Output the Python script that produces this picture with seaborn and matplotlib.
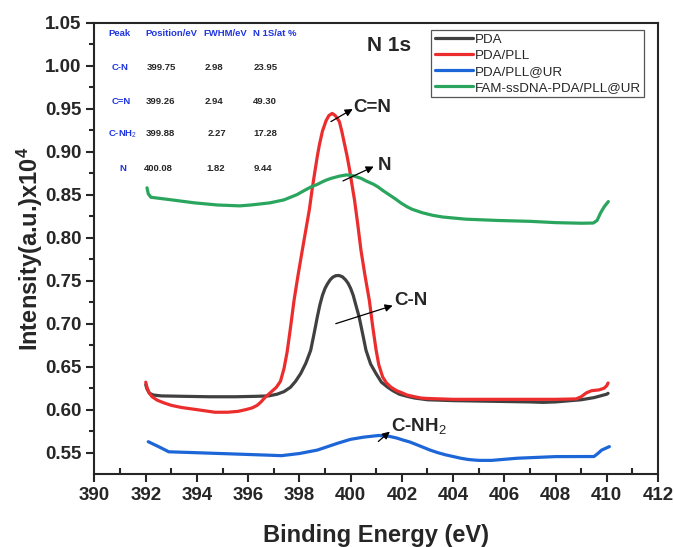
import numpy as np
import pandas as pd
import matplotlib
matplotlib.use("Agg")
import matplotlib.pyplot as plt
from matplotlib.ticker import MultipleLocator, FormatStrFormatter
import seaborn as sns

# ---------------- data ----------------
series_names = ["PDA", "PDA/PLL", "PDA/PLL@UR", "FAM-ssDNA-PDA/PLL@UR"]

pda_x = [392.0, 392.05, 392.15, 392.3, 392.6, 393.5, 394.5, 395.5, 396.3, 396.8, 397.13, 397.4,
         397.65, 397.85, 398.05, 398.25, 398.44, 398.57, 398.7, 398.8, 398.9, 399.0, 399.09,
         399.2, 399.3, 399.42, 399.55, 399.68, 399.8, 399.9, 400.0, 400.1, 400.2, 400.33,
         400.47, 400.6, 400.78, 400.99, 401.2, 401.45, 401.65, 401.9, 402.2, 402.5, 403.0,
         404.0, 405.0, 406.0, 407.0, 407.5, 408.0, 409.0, 409.5, 410.0, 410.05]
pda_y = [0.629, 0.624, 0.619, 0.617, 0.616, 0.6155, 0.615, 0.615, 0.6155, 0.616, 0.618, 0.621,
         0.626, 0.633, 0.642, 0.654, 0.669, 0.688, 0.708, 0.722, 0.733, 0.741, 0.746,
         0.751, 0.754, 0.7558, 0.756, 0.7545, 0.751, 0.747, 0.741, 0.733, 0.722, 0.708,
         0.688, 0.669, 0.653, 0.642, 0.632, 0.626, 0.622, 0.618, 0.6155, 0.6135, 0.6115,
         0.6105, 0.610, 0.6095, 0.609, 0.6085, 0.609, 0.6115, 0.614, 0.618, 0.619]

pll_x = [392.0, 392.05, 392.12, 392.25, 392.45, 392.7, 393.0, 393.4, 394.0, 394.7, 395.2,
         395.6, 395.9, 396.15, 396.35, 396.5, 396.65, 396.8, 396.95, 397.1, 397.26, 397.4,
         397.52, 397.65, 397.79, 397.95, 398.11, 398.25, 398.39, 398.5, 398.61, 398.7, 398.78,
         398.9, 399.04, 399.15, 399.28, 399.4, 399.56, 399.66, 399.76, 399.86, 399.96, 400.05,
         400.15, 400.28, 400.4, 400.56, 400.73, 400.86, 400.99, 401.1, 401.25, 401.4, 401.58,
         401.8, 401.97, 402.2, 402.5, 402.75, 403.0, 404.0, 406.0, 408.0, 408.8, 409.0, 409.2,
         409.4, 409.7, 409.9, 410.0, 410.05]
pll_y = [0.632, 0.626, 0.620, 0.615, 0.611, 0.608, 0.605, 0.6025, 0.600, 0.597, 0.597,
         0.598, 0.600, 0.602, 0.605, 0.609, 0.614, 0.618, 0.622, 0.626, 0.633, 0.648,
         0.667, 0.695, 0.727, 0.757, 0.785, 0.809, 0.833, 0.857, 0.878, 0.895, 0.908,
         0.924, 0.936, 0.942, 0.9445, 0.942, 0.935, 0.923, 0.909, 0.895, 0.879, 0.862,
         0.844, 0.815, 0.786, 0.756, 0.727, 0.697, 0.670, 0.652, 0.638, 0.631, 0.626,
         0.622, 0.620, 0.617, 0.615, 0.6135, 0.613, 0.612, 0.612, 0.612, 0.6125, 0.615, 0.6195,
         0.622, 0.623, 0.625, 0.628, 0.631]

ur_x = [392.1, 392.5, 392.9, 393.9, 395.4, 396.85, 397.3, 398.0, 398.7, 399.1, 399.5, 400.0,
        400.5, 400.8, 401.1, 401.3, 401.5, 401.8, 402.05, 402.3, 402.6, 403.1, 403.4, 403.7,
        404.0, 404.3, 404.6, 405.0, 405.5, 406.5, 408.0, 409.5, 409.65, 409.8, 410.1]
ur_y = [0.5627, 0.557, 0.551, 0.550, 0.5485, 0.547, 0.5465, 0.549, 0.553, 0.557, 0.561, 0.5655,
        0.568, 0.569, 0.570, 0.5695, 0.569, 0.567, 0.5646, 0.5625, 0.559, 0.553, 0.550, 0.5475,
        0.5455, 0.5435, 0.542, 0.541, 0.541, 0.5435, 0.5454, 0.5455, 0.549, 0.553, 0.557]

fam_x = [392.05, 392.1, 392.2, 393.0, 393.9, 394.8, 395.67, 396.1, 396.85, 397.4, 397.9, 398.2,
         398.45, 398.7, 398.9, 399.05, 399.24, 399.55, 399.83, 400.1, 400.25, 400.41, 400.6,
         400.75, 400.9, 401.07, 401.25, 401.5, 401.75, 401.98, 402.2, 402.4, 402.8, 403.2,
         403.6, 404.5, 405.76, 407.0, 408.0, 409.0, 409.47, 409.62, 409.76, 409.9, 410.06]
fam_y = [0.858, 0.851, 0.847, 0.844, 0.8405, 0.838, 0.837, 0.838, 0.8405, 0.844, 0.850, 0.855,
         0.859, 0.862, 0.865, 0.867, 0.869, 0.8715, 0.873, 0.872, 0.8705, 0.869, 0.866,
         0.864, 0.862, 0.859, 0.855, 0.850, 0.845, 0.840, 0.836, 0.833, 0.829, 0.826,
         0.824, 0.8215, 0.820, 0.819, 0.8175, 0.8168, 0.817, 0.820, 0.829, 0.836, 0.842]

# fitting table
table_header = ["Peak", "Position/eV", "FWHM/eV", "N 1S/at %"]
peak_names = ["C-N", "C=N", "C-NH$_2$", "N"]
peak_pos = ["399.75", "399.26", "399.88", "400.08"]
peak_fwhm = ["2.98", "2.94", "2.27", "1.82"]
peak_at = ["23.95", "49.30", "17.28", "9.44"]

# ---------------- build long-form table ----------------
frames = []
for name, xs, ys in zip(series_names, [pda_x, pll_x, ur_x, fam_x], [pda_y, pll_y, ur_y, fam_y]):
    frames.append(pd.DataFrame({"energy": xs, "intensity": ys, "sample": name}))
df = pd.concat(frames, ignore_index=True)

# ---------------- style ----------------
sns.set_style("ticks")
plt.rcParams["font.family"] = ["Liberation Sans", "DejaVu Sans"]
plt.rcParams["mathtext.fontset"] = "custom"
plt.rcParams["mathtext.rm"] = "Liberation Sans"
plt.rcParams["mathtext.bf"] = "Liberation Sans:bold"
plt.rcParams["mathtext.it"] = "Liberation Sans:italic"

palette = {"PDA": "#404040", "PDA/PLL": "#ec2d2d",
           "PDA/PLL@UR": "#1c66d8", "FAM-ssDNA-PDA/PLL@UR": "#2aa55e"}

fig = plt.figure(figsize=(6.74, 5.47), dpi=100)
ax = fig.add_axes([0.1402, 0.1335, 0.8361, 0.825])

sns.lineplot(data=df, x="energy", y="intensity", hue="sample", palette=palette,
             hue_order=series_names, estimator=None, sort=False, lw=2.3, ax=ax)
for ln in ax.get_lines():
    ln.set_solid_joinstyle("round")
    ln.set_solid_capstyle("round")

ax.set_xlim(390, 412)
ax.set_ylim(0.5252, 1.05)
ax.xaxis.set_major_locator(MultipleLocator(2))
ax.xaxis.set_minor_locator(MultipleLocator(1))
ax.yaxis.set_major_locator(MultipleLocator(0.05))
ax.yaxis.set_minor_locator(MultipleLocator(0.025))
ax.yaxis.set_major_formatter(FormatStrFormatter("%.2f"))

for sp in ax.spines.values():
    sp.set_linewidth(1.5)
    sp.set_visible(True)
ax.tick_params(axis="both", which="major", direction="out", length=6, width=1.5,
               labelsize=13.5, top=False, right=False)
ax.tick_params(axis="x", which="minor", direction="in", length=4, width=1.5, top=False)
ax.tick_params(axis="y", which="minor", direction="out", length=3.5, width=1.5, right=False)
for lab in ax.get_xticklabels() + ax.get_yticklabels():
    lab.set_fontweight("bold")

ax.set_xlabel("Binding Energy (eV)", fontsize=17, fontweight="bold", labelpad=14)
ax.set_ylabel(r"Intensity(a.u.)x10$^{\mathbf{4}}$", fontsize=17, fontweight="bold", labelpad=0)

# legend
leg = ax.legend(loc="upper left", bbox_to_anchor=(0.598, 0.984), borderaxespad=0,
                fontsize=9.6, frameon=True, fancybox=False, framealpha=1,
                handlelength=2.9, handletextpad=0.1, labelspacing=0.28, borderpad=0.25)
leg.get_frame().set_edgecolor("#555555")
leg.get_frame().set_linewidth(0.9)
for h in leg.get_lines():
    h.set_linewidth(2.3)

# title inside
ax.text(401.5, 1.024, "N 1s", fontsize=15, fontweight="bold", ha="center", va="center")

# fit table
blue = "#1f35e0"
dark = "#262626"
col_x = [390.53, 391.98, 394.25, 396.2]
row_y = [0.998, 0.958, 0.9206, 0.881]
head_y = 1.038
for cx, h in zip(col_x, table_header):
    ax.text(cx, head_y, h, fontsize=6.8, fontweight="bold", color=blue, ha="left", va="center")
name_x = [390.65, 390.65, 390.53, 390.96]
val_x = [[392.05, 392.0, 392.0, 391.93], [394.3, 394.3, 394.4, 394.37], [396.2, 396.2, 396.2, 396.2]]
for i, ry in enumerate(row_y):
    ax.text(name_x[i], ry, peak_names[i], fontsize=6.8, fontweight="bold", color=blue,
            ha="left", va="center")
    ax.text(val_x[0][i], ry, peak_pos[i], fontsize=6.8, fontweight="bold", color=dark,
            ha="left", va="center")
    ax.text(val_x[1][i], ry, peak_fwhm[i], fontsize=6.8, fontweight="bold", color=dark,
            ha="left", va="center")
    ax.text(val_x[2][i], ry, peak_at[i], fontsize=6.8, fontweight="bold", color=dark,
            ha="left", va="center")

# annotations
arrow_kw = dict(arrowstyle="-|>", color="black", lw=0.9, mutation_scale=11,
                shrinkA=0, shrinkB=0)
ax.annotate("", xy=(400.08, 0.9496), xytext=(399.23, 0.935), arrowprops=arrow_kw)
ax.text(400.12, 0.951, "C=N", fontsize=13.5, fontweight="bold", ha="left", va="center")

ax.annotate("", xy=(400.9, 0.8827), xytext=(399.7, 0.866), arrowprops=arrow_kw)
ax.text(401.05, 0.8845, "N", fontsize=13.5, fontweight="bold", ha="left", va="center")

ax.annotate("", xy=(401.64, 0.721), xytext=(399.42, 0.700), arrowprops=arrow_kw)
ax.text(401.7, 0.727, "C-N", fontsize=13.5, fontweight="bold", ha="left", va="center")

ax.annotate("", xy=(401.53, 0.5745), xytext=(401.08, 0.563), arrowprops=arrow_kw)
ax.text(401.58, 0.581, "C-NH$_2$", fontsize=13.5, fontweight="bold", ha="left", va="center")

fig.savefig("out.png", dpi=100)
